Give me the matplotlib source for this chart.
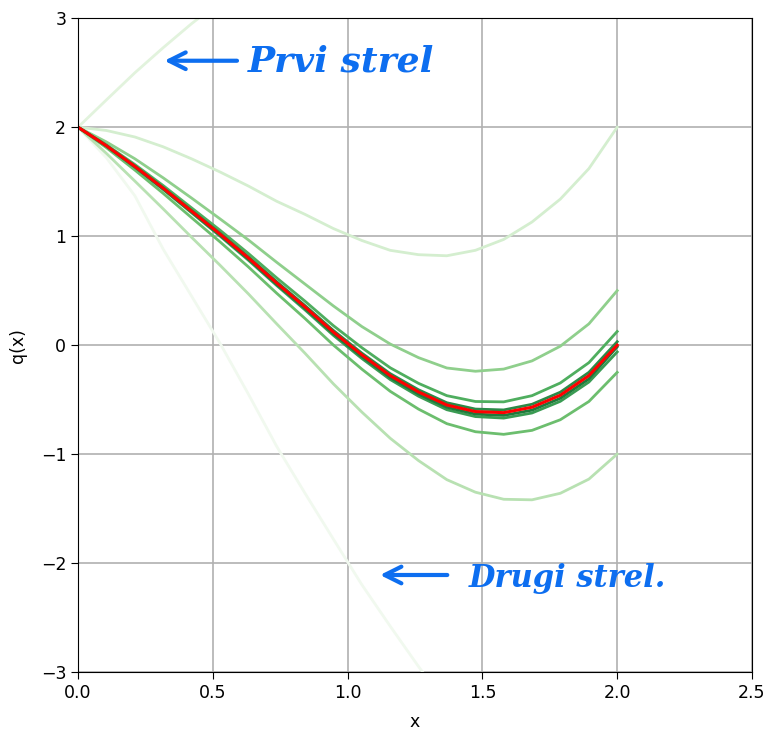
import matplotlib
matplotlib.use("Agg")
import matplotlib.pyplot as plt

# sample points along x (same for every shot)
x_vals = [0.0, 0.105, 0.211, 0.316, 0.421, 0.526, 0.632, 0.737, 0.842, 0.947,
          1.053, 1.158, 1.263, 1.368, 1.474, 1.579, 1.684, 1.789, 1.895, 2.0]

# first and second shot
shot_1 = [2.00, 2.25, 2.50, 2.73, 2.95, 3.15, 3.35, 3.55, 3.75, 3.93,
          4.11, 4.32, 4.60, 4.93, 5.31, 5.74, 6.23, 6.74, 7.32, 8.00]
shot_2 = [2.00, 1.72, 1.37, 0.88, 0.45, 0.02, -0.45, -0.93, -1.36, -1.78,
          -2.20, -2.58, -2.95, -3.30, -3.57, -3.80, -3.97, -4.06, -4.08, -4.00]

# following iterations
iter_1 = [2.00, 1.97, 1.91, 1.82, 1.71, 1.59, 1.46, 1.32, 1.20, 1.07,
          0.96, 0.87, 0.83, 0.82, 0.87, 0.97, 1.13, 1.34, 1.62, 2.00]
iter_2 = [2.00, 1.76, 1.505, 1.25, 0.99, 0.735, 0.47, 0.195, -0.075, -0.355,
          -0.615, -0.855, -1.06, -1.235, -1.35, -1.415, -1.42, -1.36, -1.23, -1.00]
iter_3 = [2.00, 1.865, 1.71, 1.535, 1.35, 1.16, 0.965, 0.76, 0.56, 0.36,
          0.17, 0.01, -0.115, -0.21, -0.24, -0.22, -0.145, -0.01, 0.195, 0.50]
iter_4 = [2.00, 1.8125, 1.606, 1.3925, 1.17, 0.949, 0.7175, 0.476, 0.244, 0.001,
          -0.221, -0.424, -0.5875, -0.721, -0.795, -0.819, -0.7825, -0.685, -0.5175, -0.25]
iter_5 = [2.00, 1.839, 1.657, 1.464, 1.26, 1.056, 0.841, 0.617, 0.403, 0.179,
          -0.024, -0.208, -0.351, -0.464, -0.5175, -0.521, -0.464, -0.3475, -0.161, 0.125]
iter_6 = [2.00, 1.826, 1.632, 1.428, 1.215, 1.002, 0.779, 0.547, 0.323, 0.09,
          -0.123, -0.316, -0.469, -0.593, -0.656, -0.67, -0.623, -0.516, -0.339, -0.0625]
iter_7 = [2.00, 1.832, 1.644, 1.446, 1.237, 1.029, 0.81, 0.582, 0.363, 0.135,
          -0.074, -0.262, -0.41, -0.529, -0.587, -0.595, -0.543, -0.432, -0.25, 0.031]
iter_8 = [2.00, 1.828, 1.636, 1.434, 1.223, 1.011, 0.79, 0.558, 0.337, 0.105,
          -0.106, -0.298, -0.45, -0.571, -0.633, -0.645, -0.597, -0.488, -0.31, -0.016]

# final solution
q_final = [2.00, 1.83, 1.64, 1.44, 1.23, 1.02, 0.80, 0.57, 0.35, 0.12,
           -0.09, -0.28, -0.43, -0.55, -0.61, -0.62, -0.57, -0.46, -0.28, 0.00]

shots = [shot_2, shot_1, iter_1, iter_2, iter_3, iter_4, iter_5, iter_6, iter_7, iter_8]
shot_colors = ["#f1f9ef", "#e2f3dd", "#d4eecf", "#b8e1b2", "#8fcf8c",
               "#6cbe6e", "#4fae5f", "#3a9b53", "#2b8a47", "#1f7a3c"]

fig = plt.figure(figsize=(7.65, 7.3), dpi=100)
ax = fig.add_axes([0.102, 0.0795, 0.881, 0.8955])

for ys, c in zip(shots, shot_colors):
    ax.plot(x_vals, ys, color=c, lw=2)
ax.plot(x_vals, q_final, color="red", lw=2.2)

ax.set_xlim(0, 2.5)
ax.set_ylim(-3, 3)
ax.set_xticks([0.0, 0.5, 1.0, 1.5, 2.0, 2.5])
ax.set_yticks([-3, -2, -1, 0, 1, 2, 3])
ax.grid(True, color="#b0b0b0", lw=1.2)
ax.set_axisbelow(True)
ax.tick_params(labelsize=12.5, length=5)
ax.set_xlabel("x", fontsize=12.5, labelpad=8)
ax.set_ylabel("q(x)", fontsize=12.5, labelpad=10)

# handwritten notes
blue = "#0d6ef0"
ax.annotate("", xy=(0.31, 2.61), xytext=(0.6, 2.61),
            arrowprops=dict(arrowstyle="->", color=blue, lw=3, mutation_scale=30))
ax.text(0.63, 2.6, "Prvi strel", color=blue, fontsize=26, fontstyle="italic",
        fontweight="bold", va="center", ha="left", family="DejaVu Serif")
ax.annotate("", xy=(1.11, -2.11), xytext=(1.38, -2.11),
            arrowprops=dict(arrowstyle="->", color=blue, lw=3, mutation_scale=30))
ax.text(1.45, -2.14, "Drugi strel.", color=blue, fontsize=22, fontstyle="italic",
        fontweight="bold", va="center", ha="left", family="DejaVu Serif")

fig.savefig("out.png", dpi=100)
